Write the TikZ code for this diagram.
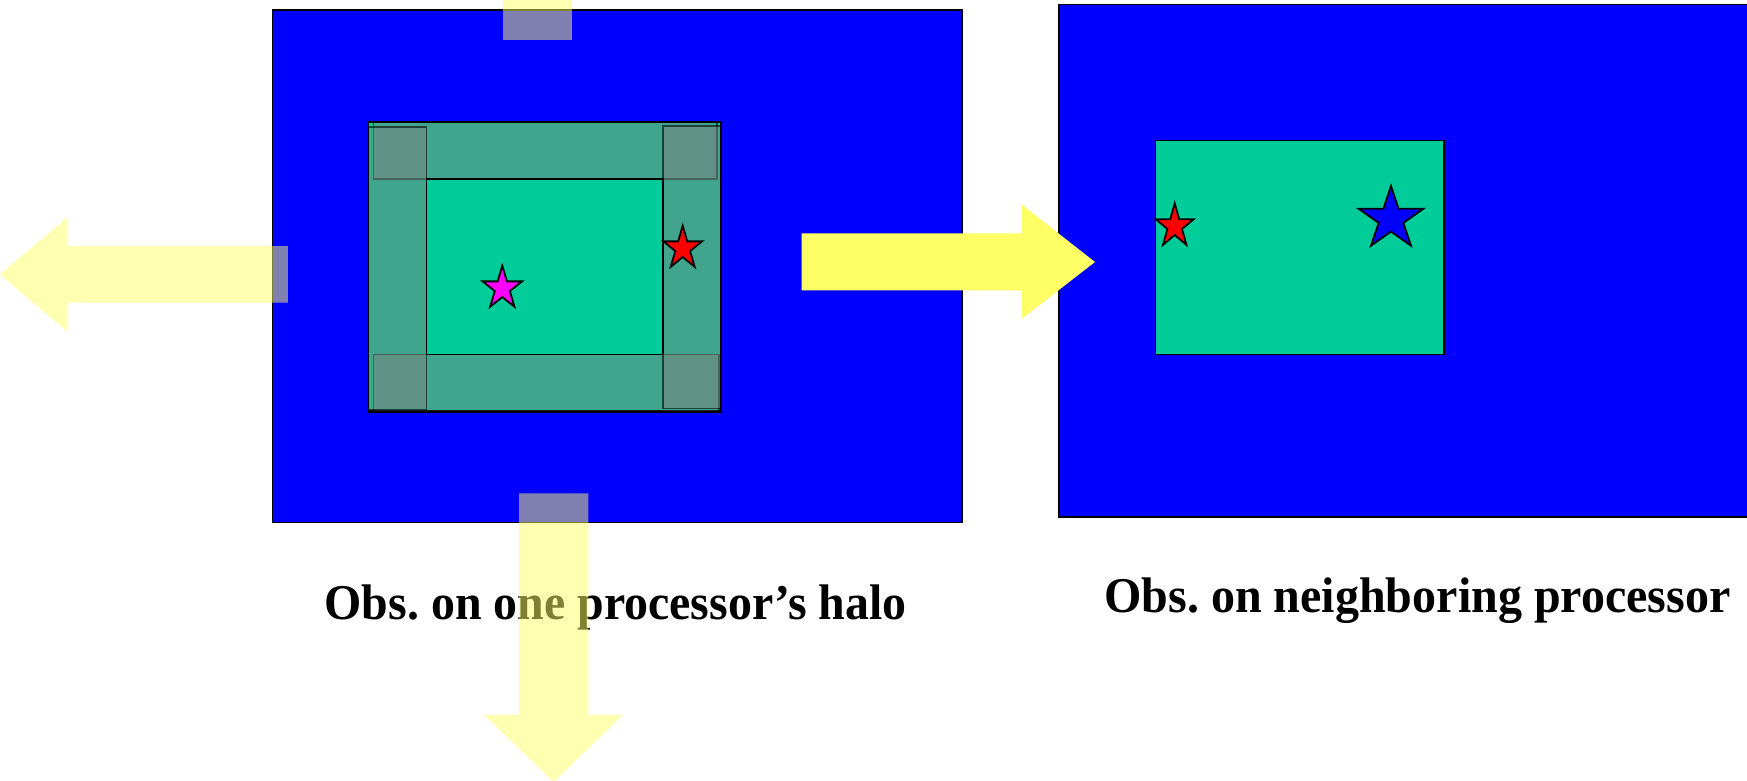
\documentclass[tikz,border=0pt]{standalone}
\usepackage{fontspec}
\setmainfont{Liberation Serif}
\usepackage{graphicx}
\frenchspacing
\definecolor{pblue}{HTML}{0000FF}
\definecolor{pteal}{HTML}{00CC99}
\definecolor{pyellow}{HTML}{FFFF66}
\definecolor{pmagenta}{HTML}{FF00FF}
\definecolor{pred}{HTML}{FF0000}
\newcommand{\mystar}[5]{%
  \draw[starline,fill=#5] (#1,#2)
    +(-90:#3 and #4) -- +(-54:0.382*#3 and 0.382*#4)
    -- +(-18:#3 and #4) -- +(18:0.382*#3 and 0.382*#4)
    -- +(54:#3 and #4) -- +(90:0.382*#3 and 0.382*#4)
    -- +(126:#3 and #4) -- +(162:0.382*#3 and 0.382*#4)
    -- +(198:#3 and #4) -- +(234:0.382*#3 and 0.382*#4) -- cycle;}
\begin{document}
\begin{tikzpicture}[x=0.5pt,y=-0.5pt,
  procbox/.style={fill=pblue,draw=black,line width=0.8pt},
  regionbox/.style={fill=pteal,draw=black,line width=0.8pt},
  bandbox/.style={fill=gray,fill opacity=0.5,draw=black,draw opacity=0.6,line width=0.8pt},
  starline/.style={draw=black,line width=0.9pt,line join=miter},
  ghostarrow/.style={fill=pyellow,fill opacity=0.5,draw=none},
  solidarrow/.style={fill=pyellow,draw=none},
  captiontext/.style={anchor=base,inner sep=0pt,font=\bfseries\fontsize{25}{30}\selectfont}]
\useasboundingbox (0,0) rectangle (1747,781);
\begin{scope}
\clip (0,0) rectangle (1747,781);
% left processor domain
\draw[procbox] (272.5,10) rectangle (962,522.5);
% halo region
\draw[regionbox] (368.3,122.3) rectangle (721,410.7);
\draw[bandbox] (373.3,122.3) rectangle (716.7,179.3);
\draw[bandbox] (373.3,354.3) rectangle (719,410.7);
\draw[bandbox] (368.3,127.3) rectangle (426.3,409.3);
\draw[bandbox] (662.7,126) rectangle (721,408.3);
\draw[black,line width=0.8pt] (426.3,179.3) rectangle (662.7,354.3);
\draw[black,line width=0.8pt] (368.3,122.3) rectangle (721,412.3);
\mystar{502.3}{288.4}{20.7}{22.7}{pmagenta}
\mystar{682.7}{248.4}{20.3}{22.7}{pred}
% right processor domain
\draw[procbox] (1059,4.5) rectangle (1760,517);
\draw[regionbox] (1155.4,140.4) rectangle (1444,354.3);
\mystar{1174.7}{226.3}{20}{23}{pred}
\mystar{1391}{219}{34}{33}{pblue}
% captions
\node[captiontext] (cap1) at (615.7,619.5) {\resizebox{291pt}{\height}{Obs. on one processor’s halo}};
\node[captiontext] (cap2) at (1417.5,612) {\resizebox{313pt}{\height}{Obs. on neighboring processor}};
% arrows
\fill[ghostarrow] (287.8,246) -- (67.7,246) -- (67.7,217.3) -- (0,274.5)
  -- (67.7,331.7) -- (67.7,302.7) -- (287.8,302.7) -- cycle;
\fill[ghostarrow] (519,493.3) -- (588.3,493.3) -- (588.3,715) -- (623,715)
  -- (553.7,782) -- (484.3,715) -- (519,715) -- cycle;
\fill[ghostarrow] (503.3,-5) rectangle (572,40);
\fill[solidarrow] (801.5,233.4) -- (1022,233.4) -- (1022,204.8) -- (1095,262)
  -- (1022,318.6) -- (1022,290.3) -- (801.5,290.3) -- cycle;
\end{scope}
\end{tikzpicture}
\end{document}
